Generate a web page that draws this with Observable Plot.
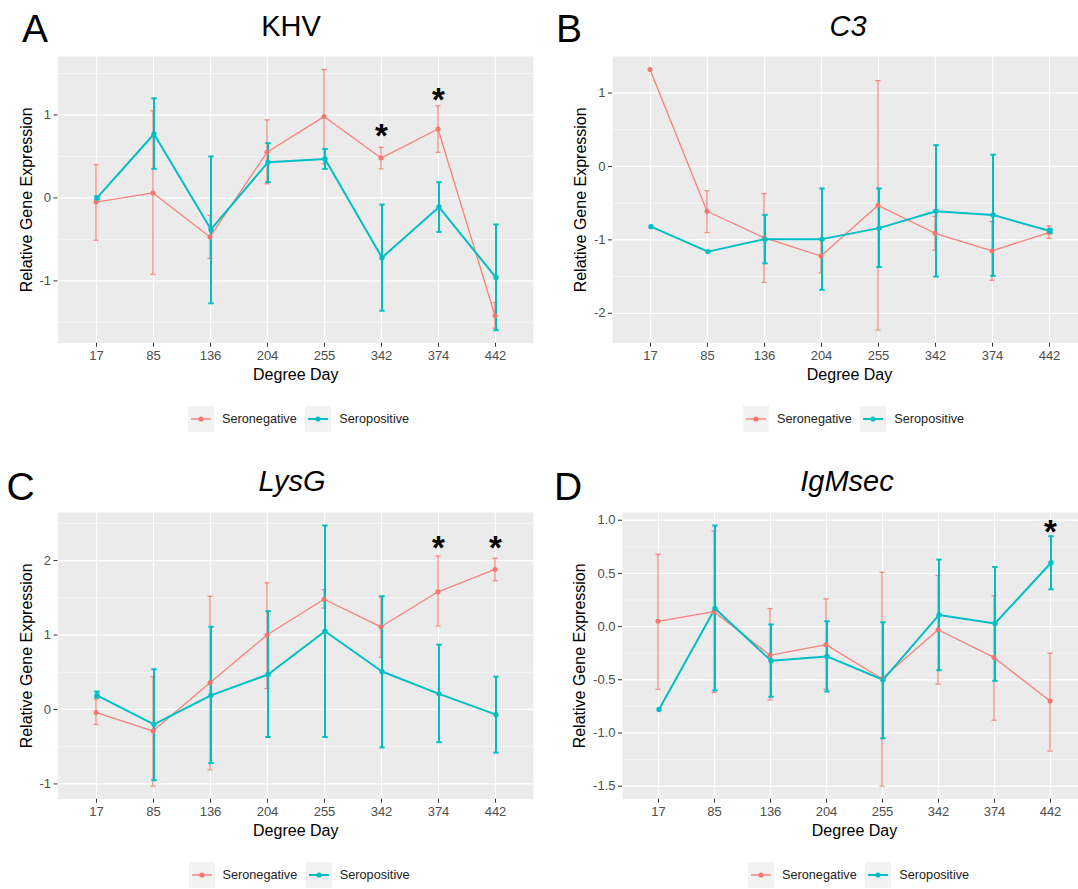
<!DOCTYPE html>
<html><head><meta charset="utf-8">
<script src="https://cdn.jsdelivr.net/npm/d3@7"></script>
<script src="https://cdn.jsdelivr.net/npm/@observablehq/plot@0.6"></script>
<style>
body{margin:0;background:#fff;font-family:"Liberation Sans",Arial,sans-serif;}
#fig{position:relative;width:1078px;height:889px;overflow:hidden;background:#fff;}
.abs{position:absolute;white-space:nowrap;line-height:1;color:#000;}
.letter{font-size:39px;}
.title{font-size:29px;transform:translateX(-50%);}
.legend{position:absolute;display:flex;align-items:center;height:26px;font-size:12.7px;color:#222;line-height:1;white-space:nowrap;}
.legend svg{display:block;}
.pane{position:absolute;}
.pane svg{max-width:none !important;}
</style></head>
<body><div id="fig"></div>
<script>
// ---------- data ----------
const degreeDays = ["17","85","136","204","255","342","374","442"];
const groups = ["Seronegative","Seropositive"];
const groupColors = ["#F8766D","#00BFC4"];

// A: KHV
const khvNegMean = [-0.05, 0.06, -0.47, 0.55, 0.98, 0.48, 0.83, -1.42];
const khvNegLow  = [-0.51, -0.92, -0.73, 0.17, 0.41, 0.35, 0.55, -1.57];
const khvNegHigh = [0.40, 1.05, -0.21, 0.94, 1.547, 0.61, 1.11, -1.26];
const khvPosMean = [0.00, 0.77, -0.38, 0.43, 0.47, -0.72, -0.11, -0.96];
const khvPosLow  = [-0.02, 0.35, -1.27, 0.19, 0.35, -1.36, -0.41, -1.594];
const khvPosHigh = [0.02, 1.20, 0.50, 0.66, 0.59, -0.08, 0.19, -0.32];
const khvStarDays = ["342","374"];
const khvStarY = [0.84, 1.27];

// B: C3
const c3NegMean = [1.32, -0.61, -0.97, -1.22, -0.53, -0.91, -1.15, -0.90];
const c3NegLow  = [null, -0.90, -1.58, -1.45, -2.23, -1.14, -1.55, -0.98];
const c3NegHigh = [null, -0.33, -0.37, -0.99, 1.17, -0.68, -0.75, -0.81];
const c3PosMean = [-0.82, -1.16, -0.99, -0.99, -0.84, -0.61, -0.66, -0.88];
const c3PosLow  = [null, null, -1.32, -1.68, -1.37, -1.50, -1.49, -0.91];
const c3PosHigh = [null, null, -0.66, -0.30, -0.30, 0.29, 0.16, -0.85];
const c3StarDays = [];
const c3StarY = [];

// C: LysG
const lysNegMean = [-0.04, -0.29, 0.36, 1.00, 1.48, 1.11, 1.58, 1.88];
const lysNegLow  = [-0.20, -1.03, -0.81, 0.28, 1.36, 0.70, 1.12, 1.73];
const lysNegHigh = [0.14, 0.44, 1.52, 1.70, 1.61, 1.51, 2.06, 2.03];
const lysPosMean = [0.19, -0.20, 0.19, 0.47, 1.05, 0.51, 0.21, -0.07];
const lysPosLow  = [0.16, -0.95, -0.72, -0.37, -0.37, -0.51, -0.44, -0.58];
const lysPosHigh = [0.24, 0.54, 1.11, 1.32, 2.47, 1.52, 0.87, 0.44];
const lysStarDays = ["374","442"];
const lysStarY = [2.27, 2.27];

// D: IgMsec
const igmNegMean = [0.05, 0.14, -0.27, -0.17, -0.49, -0.03, -0.29, -0.70];
const igmNegLow  = [-0.59, -0.62, -0.69, -0.59, -1.50, -0.54, -0.88, -1.17];
const igmNegHigh = [0.68, 0.90, 0.17, 0.26, 0.51, 0.48, 0.29, -0.25];
const igmPosMean = [-0.78, 0.17, -0.32, -0.28, -0.50, 0.11, 0.03, 0.60];
const igmPosLow  = [null, -0.60, -0.66, -0.61, -1.05, -0.41, -0.51, 0.35];
const igmPosHigh = [null, 0.95, 0.02, 0.05, 0.04, 0.63, 0.56, 0.85];
const igmStarDays = ["442"];
const igmStarY = [0.96];

const khvTicks = [-1, 0, 1];
const c3Ticks = [-2, -1, 0, 1];
const lysTicks = [-1, 0, 1, 2];
const igmTicks = [-1.5, -1.0, -0.5, 0.0, 0.5, 1.0];

// ---------- drawing ----------
const FONT = '"Liberation Sans", Arial, sans-serif';
const fig = document.getElementById("fig");

// horizontal-bar symbol used for error-bar caps
const capSymbol = {
  draw(context, size) {
    const w = Math.sqrt(size / Math.PI);
    context.moveTo(-w, 0);
    context.lineTo(w, 0);
  }
};

function rows(mean, low, high) {
  return degreeDays.map((d, i) => ({day: d, mean: mean[i], low: low[i], high: high[i]}));
}

function ggDomain(arrs) {
  const v = arrs.flat().filter(x => x != null);
  const lo = d3.min(v), hi = d3.max(v), pad = (hi - lo) * 0.05;
  return [lo - pad, hi + pad];
}

function panel(cfg) {
  const neg = rows(cfg.negMean, cfg.negLow, cfg.negHigh);
  const pos = rows(cfg.posMean, cfg.posLow, cfg.posHigh);
  const domain = ggDomain([cfg.negMean, cfg.negLow, cfg.negHigh, cfg.posMean, cfg.posLow, cfg.posHigh]);
  const step = cfg.ticks[1] - cfg.ticks[0];
  const minor = d3.range(cfg.ticks[0] - step / 2, domain[1], step).filter(t => t > domain[0] && t < domain[1]);
  const negErr = neg.filter(d => d.low != null);
  const posErr = pos.filter(d => d.low != null);
  const [cNeg, cPos] = groupColors;
  const stars = cfg.starDays.map((d, i) => ({day: d, y: cfg.starY[i]}));
  const p = Plot.plot({
    width: cfg.width, height: 390,
    marginLeft: cfg.ml, marginRight: cfg.mr, marginTop: 56, marginBottom: 47.3,
    style: {fontFamily: FONT, background: "transparent", overflow: "visible", maxWidth: "none"},
    x: {type: "point", domain: degreeDays, padding: 0.6},
    y: {domain},
    marks: [
      Plot.frame({fill: "#EBEBEB", stroke: "none"}),
      Plot.gridY(minor, {stroke: "white", strokeOpacity: 1, strokeWidth: 0.6}),
      Plot.gridY(cfg.ticks, {stroke: "white", strokeOpacity: 1, strokeWidth: 1.2}),
      Plot.gridX(degreeDays, {stroke: "white", strokeOpacity: 1, strokeWidth: 1.2}),
      Plot.axisY(cfg.ticks, {tickSize: 4, tickPadding: 3, fontSize: 13, fill: "#4D4D4D", stroke: "#333", tickFormat: cfg.fmt, label: null}),
      Plot.axisX({tickSize: 4, tickPadding: 4, fontSize: 13, fill: "#4D4D4D", stroke: "#333", label: null}),
      Plot.text(["Degree Day"], {frameAnchor: "bottom", lineAnchor: "middle", textAnchor: "middle", dy: 31.3, fontSize: 16, fill: "black"}),
      Plot.text(["Relative Gene Expression"], {frameAnchor: "left", textAnchor: "middle", lineAnchor: "middle", rotate: -90, dx: cfg.ytx, fontSize: 16, fill: "black"}),
      // error bars
      Plot.ruleX(negErr, {x: "day", y1: "low", y2: "high", stroke: cNeg, strokeOpacity: 0.9, strokeWidth: 1.2, dx: -0.5}),
      Plot.dot(negErr, {x: "day", y: "low", symbol: capSymbol, r: 2.5, stroke: cNeg, strokeOpacity: 0.9, strokeWidth: 1.2, dx: -0.5}),
      Plot.dot(negErr, {x: "day", y: "high", symbol: capSymbol, r: 2.5, stroke: cNeg, strokeOpacity: 0.9, strokeWidth: 1.2, dx: -0.5}),
      Plot.ruleX(posErr, {x: "day", y1: "low", y2: "high", stroke: cPos, strokeWidth: 2, dx: 0.5}),
      Plot.dot(posErr, {x: "day", y: "low", symbol: capSymbol, r: 2.7, stroke: cPos, strokeWidth: 2, dx: 0.5}),
      Plot.dot(posErr, {x: "day", y: "high", symbol: capSymbol, r: 2.7, stroke: cPos, strokeWidth: 2, dx: 0.5}),
      // lines
      Plot.line(neg, {x: "day", y: "mean", stroke: cNeg, strokeOpacity: 0.9, strokeWidth: 1.3, dx: -0.5}),
      Plot.line(pos, {x: "day", y: "mean", stroke: cPos, strokeWidth: 2, dx: 0.5}),
      // points
      Plot.dot(neg, {x: "day", y: "mean", fill: cNeg, r: 2.5, dx: -0.5}),
      Plot.dot(pos, {x: "day", y: "mean", fill: cPos, r: 2.7, dx: 0.5}),
      // significance stars
      Plot.text(stars, {x: "day", y: "y", text: () => "*", fontSize: 33, fontWeight: "bold", fill: "black", dy: 8})
    ]
  });
  const wrap = document.createElement("div");
  wrap.className = "pane";
  wrap.style.left = cfg.left + "px";
  wrap.style.top = cfg.top + "px";
  wrap.style.width = cfg.width + "px";
  wrap.appendChild(p);
  fig.appendChild(wrap);

  // letter and title
  const L = document.createElement("div");
  L.className = "abs letter"; L.textContent = cfg.letter;
  L.style.left = cfg.letterX + "px"; L.style.top = cfg.letterY + "px";
  fig.appendChild(L);
  const T = document.createElement("div");
  T.className = "abs title"; T.textContent = cfg.title;
  if (cfg.italic) T.style.fontStyle = "italic";
  T.style.left = cfg.titleX + "px"; T.style.top = cfg.titleY + "px";
  fig.appendChild(T);

  // legend
  const lg = document.createElement("div");
  lg.className = "legend";
  lg.style.left = cfg.legX + "px"; lg.style.top = cfg.legY + "px";
  groups.forEach((g, i) => {
    const c = groupColors[i];
    const sw = i === 0 ? 1.3 : 2;
    const key = `<svg width="26" height="26" style="margin-left:${i === 0 ? 0 : 8.5}px"><rect width="26" height="26" fill="#F2F2F2"/><line x1="3" x2="23" y1="13" y2="13" stroke="${c}" stroke-width="${sw}"/><circle cx="13" cy="13" r="2.6" fill="${c}"/></svg>`;
    lg.insertAdjacentHTML("beforeend", key + `<span style="margin-left:8px">${g}</span>`);
  });
  fig.appendChild(lg);
}

const intFmt = d => String(d);
const oneFmt = d => d.toFixed(1);

panel({letter: "A", title: "KHV", italic: false,
  negMean: khvNegMean, negLow: khvNegLow, negHigh: khvNegHigh,
  posMean: khvPosMean, posLow: khvPosLow, posHigh: khvPosHigh,
  starDays: khvStarDays, starY: khvStarY, ticks: khvTicks, fmt: intFmt,
  left: 0, top: 0, width: 540, ml: 57.5, mr: 7, ytx: -31.5,
  letterX: 22, letterY: 8.7, titleX: 291, titleY: 11.5, legX: 188, legY: 406});

panel({letter: "B", title: "C3", italic: true,
  negMean: c3NegMean, negLow: c3NegLow, negHigh: c3NegHigh,
  posMean: c3PosMean, posLow: c3PosLow, posHigh: c3PosHigh,
  starDays: c3StarDays, starY: c3StarY, ticks: c3Ticks, fmt: intFmt,
  left: 540, top: 0, width: 548, ml: 72, mr: 2, ytx: -31.5,
  letterX: 556, letterY: 9, titleX: 848, titleY: 11.5, legX: 743, legY: 406});

panel({letter: "C", title: "LysG", italic: true,
  negMean: lysNegMean, negLow: lysNegLow, negHigh: lysNegHigh,
  posMean: lysPosMean, posLow: lysPosLow, posHigh: lysPosHigh,
  starDays: lysStarDays, starY: lysStarY, ticks: lysTicks, fmt: intFmt,
  left: 0, top: 455.5, width: 540, ml: 57.5, mr: 7, ytx: -31.5,
  letterX: 6.6, letterY: 467, titleX: 292, titleY: 466.5, legX: 188.5, legY: 862});

panel({letter: "D", title: "IgMsec", italic: true,
  negMean: igmNegMean, negLow: igmNegLow, negHigh: igmNegHigh,
  posMean: igmPosMean, posLow: igmPosLow, posHigh: igmPosHigh,
  starDays: igmStarDays, starY: igmStarY, ticks: igmTicks, fmt: oneFmt,
  left: 540, top: 455.5, width: 548, ml: 82, mr: 2, ytx: -42.5,
  letterX: 554, letterY: 467, titleX: 847, titleY: 466.5, legX: 748, legY: 862});
</script>
</body></html>
